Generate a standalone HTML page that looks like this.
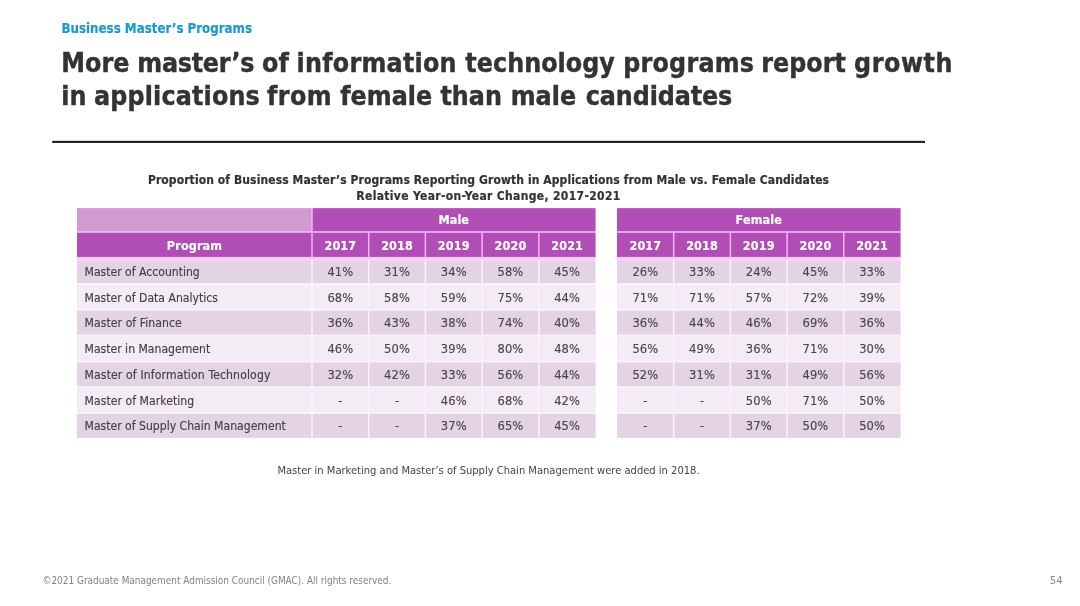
<!DOCTYPE html>
<html lang="en"><head><meta charset="utf-8"><title>Business Master’s Programs</title>
<style>
html,body{margin:0;padding:0;background:#fff;}
body{width:1080px;height:606px;position:relative;overflow:hidden;font-family:"DejaVu Sans Condensed", "DejaVu Sans", "Liberation Sans", sans-serif;font-stretch:condensed;color:#3b3b3b;}
svg{position:absolute;left:0;top:0;}
.t{position:absolute;white-space:nowrap;line-height:20px;height:20px;}
.kicker{font-size:13.2px;font-weight:bold;color:#1a98d2;-webkit-text-stroke:0.15px #1a98d2;}
.title{font-size:26.5px;font-weight:bold;color:#333;letter-spacing:0.045px;-webkit-text-stroke:0.4px #333;}
.ct{text-align:center;font-size:12.0px;font-weight:bold;color:#333;letter-spacing:0.1px;-webkit-text-stroke:0.2px #333;}
.h{color:#fff;font-weight:bold;text-align:center;font-size:12.5px;letter-spacing:0.12px;-webkit-text-stroke:0.15px #fff;}
.v{text-align:center;font-size:12.8px;color:#4a464d;letter-spacing:0.1px;-webkit-text-stroke:0.15px #4a464d;}
.p{font-size:12.1px;color:#454148;-webkit-text-stroke:0.15px #454148;}
.note{text-align:center;font-size:11.07px;color:#444;}
.foot{font-size:9.93px;color:#838383;}
.pn{font-size:11.2px;color:#8a8a8a;}
</style></head>
<body>
<svg width="1080" height="606" viewBox="0 0 1080 606">
<rect x="52.20" y="140.85" width="872.80" height="2.10" fill="#1e1e1e"/>
<rect x="77.00" y="208.20" width="518.50" height="49.70" fill="#f7b4f9"/>
<rect x="617.00" y="208.20" width="283.50" height="49.70" fill="#f7b4f9"/>
<rect x="77.00" y="257.90" width="518.50" height="180.00" fill="#fbf0fc"/>
<rect x="617.00" y="257.90" width="283.50" height="180.00" fill="#fbf0fc"/>
<rect x="77.00" y="256.90" width="518.50" height="2.10" fill="#f8c6fa"/>
<rect x="77.00" y="259.00" width="518.50" height="1.10" fill="#f1ddf2"/>
<rect x="617.00" y="256.90" width="283.50" height="2.10" fill="#f8c6fa"/>
<rect x="617.00" y="259.00" width="283.50" height="1.10" fill="#f1ddf2"/>
<rect x="77.00" y="208.20" width="234.25" height="23.00" fill="#cf9bd1"/>
<rect x="312.75" y="208.20" width="282.75" height="23.00" fill="#b14eb6"/>
<rect x="617.00" y="208.20" width="283.50" height="23.00" fill="#b14eb6"/>
<rect x="77.00" y="232.80" width="234.25" height="24.10" fill="#b14eb6"/>
<rect x="312.75" y="232.80" width="55.20" height="24.10" fill="#b14eb6"/>
<rect x="617.00" y="232.80" width="55.95" height="24.10" fill="#b14eb6"/>
<rect x="369.45" y="232.80" width="55.20" height="24.10" fill="#b14eb6"/>
<rect x="674.45" y="232.80" width="55.20" height="24.10" fill="#b14eb6"/>
<rect x="426.15" y="232.80" width="55.20" height="24.10" fill="#b14eb6"/>
<rect x="731.15" y="232.80" width="55.20" height="24.10" fill="#b14eb6"/>
<rect x="482.85" y="232.80" width="55.20" height="24.10" fill="#b14eb6"/>
<rect x="787.85" y="232.80" width="55.20" height="24.10" fill="#b14eb6"/>
<rect x="539.55" y="232.80" width="55.95" height="24.10" fill="#b14eb6"/>
<rect x="844.55" y="232.80" width="55.95" height="24.10" fill="#b14eb6"/>
<rect x="77.00" y="260.10" width="234.20" height="22.90" fill="#e4d3e5"/>
<rect x="312.80" y="260.10" width="55.10" height="22.90" fill="#e4d3e5"/>
<rect x="617.00" y="260.10" width="55.90" height="22.90" fill="#e4d3e5"/>
<rect x="369.50" y="260.10" width="55.10" height="22.90" fill="#e4d3e5"/>
<rect x="674.50" y="260.10" width="55.10" height="22.90" fill="#e4d3e5"/>
<rect x="426.20" y="260.10" width="55.10" height="22.90" fill="#e4d3e5"/>
<rect x="731.20" y="260.10" width="55.10" height="22.90" fill="#e4d3e5"/>
<rect x="482.90" y="260.10" width="55.10" height="22.90" fill="#e4d3e5"/>
<rect x="787.90" y="260.10" width="55.10" height="22.90" fill="#e4d3e5"/>
<rect x="539.60" y="260.10" width="55.90" height="22.90" fill="#e4d3e5"/>
<rect x="844.60" y="260.10" width="55.90" height="22.90" fill="#e4d3e5"/>
<rect x="77.00" y="285.00" width="234.20" height="23.80" fill="#f3ecf5"/>
<rect x="312.80" y="285.00" width="55.10" height="23.80" fill="#f3ecf5"/>
<rect x="617.00" y="285.00" width="55.90" height="23.80" fill="#f3ecf5"/>
<rect x="369.50" y="285.00" width="55.10" height="23.80" fill="#f3ecf5"/>
<rect x="674.50" y="285.00" width="55.10" height="23.80" fill="#f3ecf5"/>
<rect x="426.20" y="285.00" width="55.10" height="23.80" fill="#f3ecf5"/>
<rect x="731.20" y="285.00" width="55.10" height="23.80" fill="#f3ecf5"/>
<rect x="482.90" y="285.00" width="55.10" height="23.80" fill="#f3ecf5"/>
<rect x="787.90" y="285.00" width="55.10" height="23.80" fill="#f3ecf5"/>
<rect x="539.60" y="285.00" width="55.90" height="23.80" fill="#f3ecf5"/>
<rect x="844.60" y="285.00" width="55.90" height="23.80" fill="#f3ecf5"/>
<rect x="77.00" y="310.80" width="234.20" height="23.80" fill="#e4d3e5"/>
<rect x="312.80" y="310.80" width="55.10" height="23.80" fill="#e4d3e5"/>
<rect x="617.00" y="310.80" width="55.90" height="23.80" fill="#e4d3e5"/>
<rect x="369.50" y="310.80" width="55.10" height="23.80" fill="#e4d3e5"/>
<rect x="674.50" y="310.80" width="55.10" height="23.80" fill="#e4d3e5"/>
<rect x="426.20" y="310.80" width="55.10" height="23.80" fill="#e4d3e5"/>
<rect x="731.20" y="310.80" width="55.10" height="23.80" fill="#e4d3e5"/>
<rect x="482.90" y="310.80" width="55.10" height="23.80" fill="#e4d3e5"/>
<rect x="787.90" y="310.80" width="55.10" height="23.80" fill="#e4d3e5"/>
<rect x="539.60" y="310.80" width="55.90" height="23.80" fill="#e4d3e5"/>
<rect x="844.60" y="310.80" width="55.90" height="23.80" fill="#e4d3e5"/>
<rect x="77.00" y="336.60" width="234.20" height="23.80" fill="#f3ecf5"/>
<rect x="312.80" y="336.60" width="55.10" height="23.80" fill="#f3ecf5"/>
<rect x="617.00" y="336.60" width="55.90" height="23.80" fill="#f3ecf5"/>
<rect x="369.50" y="336.60" width="55.10" height="23.80" fill="#f3ecf5"/>
<rect x="674.50" y="336.60" width="55.10" height="23.80" fill="#f3ecf5"/>
<rect x="426.20" y="336.60" width="55.10" height="23.80" fill="#f3ecf5"/>
<rect x="731.20" y="336.60" width="55.10" height="23.80" fill="#f3ecf5"/>
<rect x="482.90" y="336.60" width="55.10" height="23.80" fill="#f3ecf5"/>
<rect x="787.90" y="336.60" width="55.10" height="23.80" fill="#f3ecf5"/>
<rect x="539.60" y="336.60" width="55.90" height="23.80" fill="#f3ecf5"/>
<rect x="844.60" y="336.60" width="55.90" height="23.80" fill="#f3ecf5"/>
<rect x="77.00" y="362.40" width="234.20" height="23.80" fill="#e4d3e5"/>
<rect x="312.80" y="362.40" width="55.10" height="23.80" fill="#e4d3e5"/>
<rect x="617.00" y="362.40" width="55.90" height="23.80" fill="#e4d3e5"/>
<rect x="369.50" y="362.40" width="55.10" height="23.80" fill="#e4d3e5"/>
<rect x="674.50" y="362.40" width="55.10" height="23.80" fill="#e4d3e5"/>
<rect x="426.20" y="362.40" width="55.10" height="23.80" fill="#e4d3e5"/>
<rect x="731.20" y="362.40" width="55.10" height="23.80" fill="#e4d3e5"/>
<rect x="482.90" y="362.40" width="55.10" height="23.80" fill="#e4d3e5"/>
<rect x="787.90" y="362.40" width="55.10" height="23.80" fill="#e4d3e5"/>
<rect x="539.60" y="362.40" width="55.90" height="23.80" fill="#e4d3e5"/>
<rect x="844.60" y="362.40" width="55.90" height="23.80" fill="#e4d3e5"/>
<rect x="77.00" y="388.20" width="234.20" height="23.80" fill="#f3ecf5"/>
<rect x="312.80" y="388.20" width="55.10" height="23.80" fill="#f3ecf5"/>
<rect x="617.00" y="388.20" width="55.90" height="23.80" fill="#f3ecf5"/>
<rect x="369.50" y="388.20" width="55.10" height="23.80" fill="#f3ecf5"/>
<rect x="674.50" y="388.20" width="55.10" height="23.80" fill="#f3ecf5"/>
<rect x="426.20" y="388.20" width="55.10" height="23.80" fill="#f3ecf5"/>
<rect x="731.20" y="388.20" width="55.10" height="23.80" fill="#f3ecf5"/>
<rect x="482.90" y="388.20" width="55.10" height="23.80" fill="#f3ecf5"/>
<rect x="787.90" y="388.20" width="55.10" height="23.80" fill="#f3ecf5"/>
<rect x="539.60" y="388.20" width="55.90" height="23.80" fill="#f3ecf5"/>
<rect x="844.60" y="388.20" width="55.90" height="23.80" fill="#f3ecf5"/>
<rect x="77.00" y="414.00" width="234.20" height="23.90" fill="#e4d3e5"/>
<rect x="312.80" y="414.00" width="55.10" height="23.90" fill="#e4d3e5"/>
<rect x="617.00" y="414.00" width="55.90" height="23.90" fill="#e4d3e5"/>
<rect x="369.50" y="414.00" width="55.10" height="23.90" fill="#e4d3e5"/>
<rect x="674.50" y="414.00" width="55.10" height="23.90" fill="#e4d3e5"/>
<rect x="426.20" y="414.00" width="55.10" height="23.90" fill="#e4d3e5"/>
<rect x="731.20" y="414.00" width="55.10" height="23.90" fill="#e4d3e5"/>
<rect x="482.90" y="414.00" width="55.10" height="23.90" fill="#e4d3e5"/>
<rect x="787.90" y="414.00" width="55.10" height="23.90" fill="#e4d3e5"/>
<rect x="539.60" y="414.00" width="55.90" height="23.90" fill="#e4d3e5"/>
<rect x="844.60" y="414.00" width="55.90" height="23.90" fill="#e4d3e5"/>
</svg>
<div class="t kicker" style="left:61.50px;top:19px;">Business Master’s Programs</div>
<div class="t title" style="left:0;top:53px;width:1080px"><span style="position:absolute;left:61.20px;top:0;white-space:pre;letter-spacing:0.045px">More </span><span style="position:absolute;left:137.29px;top:0;white-space:pre;letter-spacing:-0.235px">master’s </span><span style="position:absolute;left:262.09px;top:0;white-space:pre;letter-spacing:0.045px">of </span><span style="position:absolute;left:296.61px;top:0;white-space:pre;letter-spacing:0.249px">information </span><span style="position:absolute;left:465.30px;top:0;white-space:pre;letter-spacing:0.045px">technology </span><span style="position:absolute;left:623.16px;top:0;white-space:pre;letter-spacing:0.236px">programs </span><span style="position:absolute;left:761.16px;top:0;white-space:pre;letter-spacing:0.045px">report </span><span style="position:absolute;left:854.03px;top:0;white-space:pre;letter-spacing:0.587px">growth</span></div>
<div class="t title" style="left:0;top:86px;width:1080px"><span style="position:absolute;left:61.26px;top:0;white-space:pre;letter-spacing:0.045px">in </span><span style="position:absolute;left:94.09px;top:0;white-space:pre;letter-spacing:0.164px">applications </span><span style="position:absolute;left:267.00px;top:0;white-space:pre;letter-spacing:0.378px">from </span><span style="position:absolute;left:340.20px;top:0;white-space:pre;letter-spacing:0.045px">female </span><span style="position:absolute;left:440.40px;top:0;white-space:pre;letter-spacing:0.045px">than </span><span style="position:absolute;left:510.69px;top:0;white-space:pre;letter-spacing:0.045px">male </span><span style="position:absolute;left:585.79px;top:0;white-space:pre;letter-spacing:-0.098px">candidates</span></div>
<div class="t ct" style="left:0.00px;top:170px;width:977.00px;">Proportion of Business Master’s Programs Reporting Growth in Applications from Male vs. Female Candidates</div>
<div class="t ct" style="left:0.00px;top:186px;width:977.00px;letter-spacing:0.34px;">Relative Year-on-Year Change, 2017-2021</div>
<div class="t h" style="left:312.00px;top:210px;width:283.50px;">Male</div>
<div class="t h" style="left:617.00px;top:210px;width:283.50px;">Female</div>
<div class="t h" style="left:77.00px;top:236px;width:235.00px;">Program</div>
<div class="t h" style="left:312.00px;top:236px;width:56.70px;">2017</div>
<div class="t h" style="left:617.00px;top:236px;width:56.70px;">2017</div>
<div class="t h" style="left:368.70px;top:236px;width:56.70px;">2018</div>
<div class="t h" style="left:673.70px;top:236px;width:56.70px;">2018</div>
<div class="t h" style="left:425.40px;top:236px;width:56.70px;">2019</div>
<div class="t h" style="left:730.40px;top:236px;width:56.70px;">2019</div>
<div class="t h" style="left:482.10px;top:236px;width:56.70px;">2020</div>
<div class="t h" style="left:787.10px;top:236px;width:56.70px;">2020</div>
<div class="t h" style="left:538.80px;top:236px;width:56.70px;">2021</div>
<div class="t h" style="left:843.80px;top:236px;width:56.70px;">2021</div>
<div class="t p" style="left:84.50px;top:262px;">Master of Accounting</div>
<div class="t v" style="left:312.00px;top:262px;width:56.70px;">41%</div>
<div class="t v" style="left:617.00px;top:262px;width:56.70px;">26%</div>
<div class="t v" style="left:368.70px;top:262px;width:56.70px;">31%</div>
<div class="t v" style="left:673.70px;top:262px;width:56.70px;">33%</div>
<div class="t v" style="left:425.40px;top:262px;width:56.70px;">34%</div>
<div class="t v" style="left:730.40px;top:262px;width:56.70px;">24%</div>
<div class="t v" style="left:482.10px;top:262px;width:56.70px;">58%</div>
<div class="t v" style="left:787.10px;top:262px;width:56.70px;">45%</div>
<div class="t v" style="left:538.80px;top:262px;width:56.70px;">45%</div>
<div class="t v" style="left:843.80px;top:262px;width:56.70px;">33%</div>
<div class="t p" style="left:84.50px;top:288px;">Master of Data Analytics</div>
<div class="t v" style="left:312.00px;top:288px;width:56.70px;">68%</div>
<div class="t v" style="left:617.00px;top:288px;width:56.70px;">71%</div>
<div class="t v" style="left:368.70px;top:288px;width:56.70px;">58%</div>
<div class="t v" style="left:673.70px;top:288px;width:56.70px;">71%</div>
<div class="t v" style="left:425.40px;top:288px;width:56.70px;">59%</div>
<div class="t v" style="left:730.40px;top:288px;width:56.70px;">57%</div>
<div class="t v" style="left:482.10px;top:288px;width:56.70px;">75%</div>
<div class="t v" style="left:787.10px;top:288px;width:56.70px;">72%</div>
<div class="t v" style="left:538.80px;top:288px;width:56.70px;">44%</div>
<div class="t v" style="left:843.80px;top:288px;width:56.70px;">39%</div>
<div class="t p" style="left:84.50px;top:313px;letter-spacing:0.075px;">Master of Finance</div>
<div class="t v" style="left:312.00px;top:313px;width:56.70px;">36%</div>
<div class="t v" style="left:617.00px;top:313px;width:56.70px;">36%</div>
<div class="t v" style="left:368.70px;top:313px;width:56.70px;">43%</div>
<div class="t v" style="left:673.70px;top:313px;width:56.70px;">44%</div>
<div class="t v" style="left:425.40px;top:313px;width:56.70px;">38%</div>
<div class="t v" style="left:730.40px;top:313px;width:56.70px;">46%</div>
<div class="t v" style="left:482.10px;top:313px;width:56.70px;">74%</div>
<div class="t v" style="left:787.10px;top:313px;width:56.70px;">69%</div>
<div class="t v" style="left:538.80px;top:313px;width:56.70px;">40%</div>
<div class="t v" style="left:843.80px;top:313px;width:56.70px;">36%</div>
<div class="t p" style="left:84.50px;top:339px;">Master in Management</div>
<div class="t v" style="left:312.00px;top:339px;width:56.70px;">46%</div>
<div class="t v" style="left:617.00px;top:339px;width:56.70px;">56%</div>
<div class="t v" style="left:368.70px;top:339px;width:56.70px;">50%</div>
<div class="t v" style="left:673.70px;top:339px;width:56.70px;">49%</div>
<div class="t v" style="left:425.40px;top:339px;width:56.70px;">39%</div>
<div class="t v" style="left:730.40px;top:339px;width:56.70px;">36%</div>
<div class="t v" style="left:482.10px;top:339px;width:56.70px;">80%</div>
<div class="t v" style="left:787.10px;top:339px;width:56.70px;">71%</div>
<div class="t v" style="left:538.80px;top:339px;width:56.70px;">48%</div>
<div class="t v" style="left:843.80px;top:339px;width:56.70px;">30%</div>
<div class="t p" style="left:84.50px;top:365px;letter-spacing:0.135px;">Master of Information Technology</div>
<div class="t v" style="left:312.00px;top:365px;width:56.70px;">32%</div>
<div class="t v" style="left:617.00px;top:365px;width:56.70px;">52%</div>
<div class="t v" style="left:368.70px;top:365px;width:56.70px;">42%</div>
<div class="t v" style="left:673.70px;top:365px;width:56.70px;">31%</div>
<div class="t v" style="left:425.40px;top:365px;width:56.70px;">33%</div>
<div class="t v" style="left:730.40px;top:365px;width:56.70px;">31%</div>
<div class="t v" style="left:482.10px;top:365px;width:56.70px;">56%</div>
<div class="t v" style="left:787.10px;top:365px;width:56.70px;">49%</div>
<div class="t v" style="left:538.80px;top:365px;width:56.70px;">44%</div>
<div class="t v" style="left:843.80px;top:365px;width:56.70px;">56%</div>
<div class="t p" style="left:84.50px;top:391px;letter-spacing:0.05px;">Master of Marketing</div>
<div class="t v" style="left:312.00px;top:391px;width:56.70px;">-</div>
<div class="t v" style="left:617.00px;top:391px;width:56.70px;">-</div>
<div class="t v" style="left:368.70px;top:391px;width:56.70px;">-</div>
<div class="t v" style="left:673.70px;top:391px;width:56.70px;">-</div>
<div class="t v" style="left:425.40px;top:391px;width:56.70px;">46%</div>
<div class="t v" style="left:730.40px;top:391px;width:56.70px;">50%</div>
<div class="t v" style="left:482.10px;top:391px;width:56.70px;">68%</div>
<div class="t v" style="left:787.10px;top:391px;width:56.70px;">71%</div>
<div class="t v" style="left:538.80px;top:391px;width:56.70px;">42%</div>
<div class="t v" style="left:843.80px;top:391px;width:56.70px;">50%</div>
<div class="t p" style="left:84.50px;top:416px;">Master of Supply Chain Management</div>
<div class="t v" style="left:312.00px;top:416px;width:56.70px;">-</div>
<div class="t v" style="left:617.00px;top:416px;width:56.70px;">-</div>
<div class="t v" style="left:368.70px;top:416px;width:56.70px;">-</div>
<div class="t v" style="left:673.70px;top:416px;width:56.70px;">-</div>
<div class="t v" style="left:425.40px;top:416px;width:56.70px;">37%</div>
<div class="t v" style="left:730.40px;top:416px;width:56.70px;">37%</div>
<div class="t v" style="left:482.10px;top:416px;width:56.70px;">65%</div>
<div class="t v" style="left:787.10px;top:416px;width:56.70px;">50%</div>
<div class="t v" style="left:538.80px;top:416px;width:56.70px;">45%</div>
<div class="t v" style="left:843.80px;top:416px;width:56.70px;">50%</div>
<div class="t note" style="left:0.50px;top:461px;width:976.00px;">Master in Marketing and Master’s of Supply Chain Management were added in 2018.</div>
<div class="t foot" style="left:42.50px;top:571px;">©2021 Graduate Management Admission Council (GMAC). All rights reserved.</div>
<div class="t pn" style="left:1049.80px;top:571px;">54</div>
</body></html>
